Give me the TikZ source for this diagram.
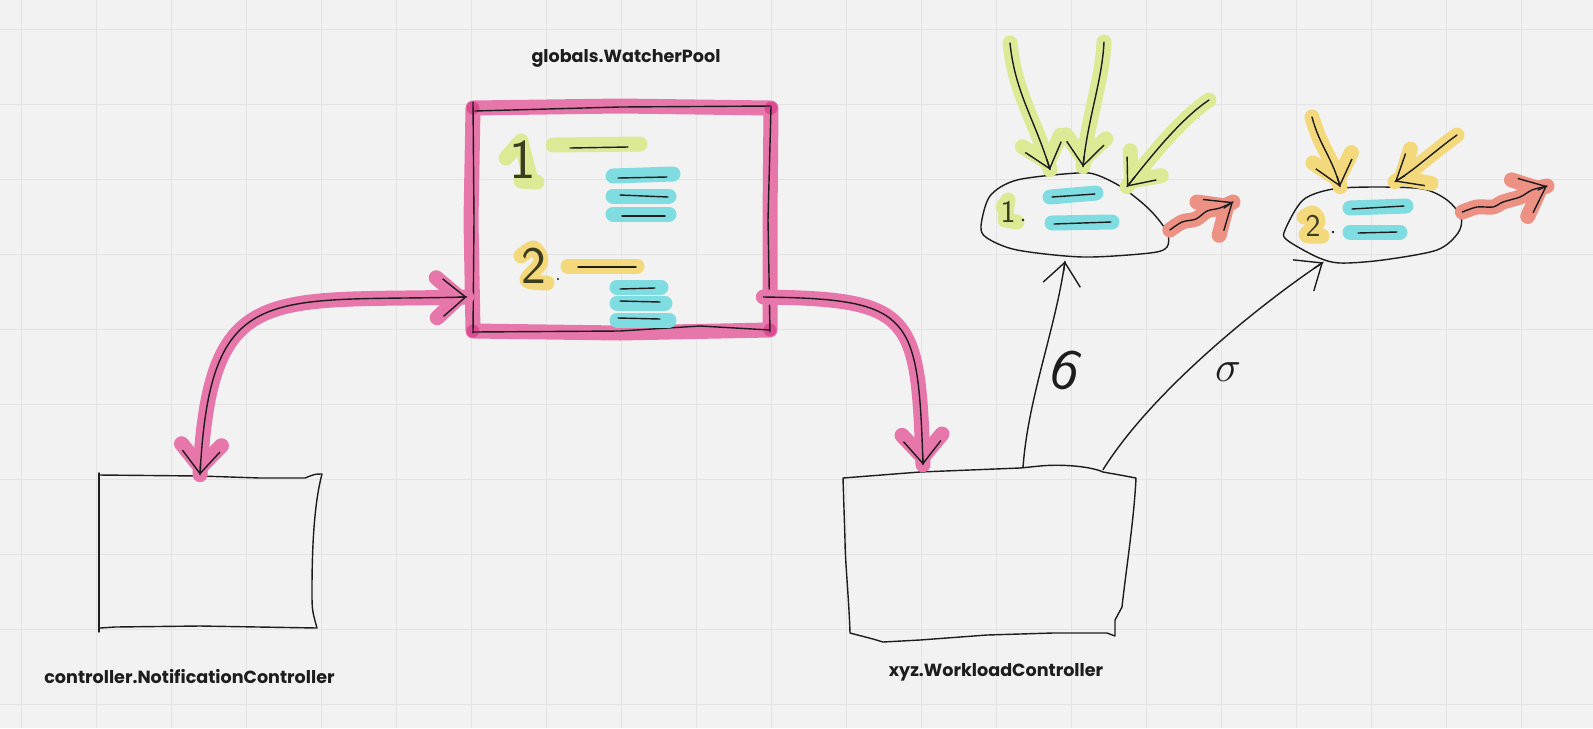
\documentclass[tikz,border=0pt]{standalone}
\usepackage{fontspec}
\setmainfont{Poppins}
\usetikzlibrary{arrows.meta,calc}
\definecolor{bgc}{HTML}{F2F2F2}
\definecolor{gridc}{HTML}{E3E3E3}
\definecolor{inkc}{HTML}{1D1D1D}
\definecolor{pinkc}{RGB}{231,118,170}
\definecolor{pinkdark}{RGB}{221,76,146}
\definecolor{greenc}{HTML}{DCEA96}
\definecolor{bluec}{HTML}{7FDDE2}
\definecolor{yellowc}{HTML}{F4D97C}
\definecolor{redc}{RGB}{238,145,133}
\definecolor{digitc}{HTML}{3C3C1E}
\tikzset{
  ink/.style={draw=inkc, line width=0.8pt, line cap=round, line join=round},
  hl/.style={line width=0.3cm, line cap=round, line join=round},
  pinkhl/.style={hl, draw=pinkc},
  greenhl/.style={hl, draw=greenc},
  bluehl/.style={hl, draw=bluec},
  yellowhl/.style={hl, draw=yellowc},
  redhl/.style={hl, draw=redc},
  hltip/.style={>={Straight Barb[length=0.45cm,width=0.8cm,round]}},
  inktip/.style={>={Straight Barb[length=0.45cm,width=0.75cm]}},
  box/.style={rectangle, draw=none, inner sep=0pt},
  lbl/.style={font=\bfseries\fontsize{10}{12}\selectfont, text=inkc, anchor=base},
  digit/.style={font=\sffamily\fontsize{#1}{#1}\selectfont, text=digitc, inner sep=0pt},
  digit/.default=28,
}
% highlight tip and ink tip at an end point, coming from direction #3
\newcommand\hltipat[3]{\draw[#1, hltip, ->] ($(#2)+#3$) -- (#2);}
\newcommand\inktipat[2]{\draw[ink, inktip, ->] ($(#1)+#2$) -- (#1);}
\begin{document}
\begin{tikzpicture}[x=0.02cm, y=-0.02cm]
\useasboundingbox (0,0) rectangle (1593,728);
\fill[bgc] (0,0) rectangle (1593,728);
\foreach \i in {0,...,21} \draw[gridc, line width=0.6pt] ({21.3+75*\i},0) -- ({21.3+75*\i},728);
\foreach \i in {0,...,9} \draw[gridc, line width=0.6pt] (0,{29.3+75*\i}) -- (1593,{29.3+75*\i});

% ---------- nodes (anchors) ----------
\node[box, minimum width=5.96cm, minimum height=4.46cm] (pool) at (622,219.5) {};
\node[box, minimum width=4.42cm, minimum height=3.12cm] (notif) at (209.5,552) {};
\node[box, minimum width=5.86cm, minimum height=3.36cm] (workload) at (989.5,554) {};
\node[box, minimum width=3.74cm, minimum height=1.68cm] (q1) at (1075,215) {};
\node[box, minimum width=3.52cm, minimum height=1.52cm] (q2) at (1373,225) {};

\node[lbl] (poollbl) at (626,62) {globals.WatcherPool};
\node[lbl] (notiflbl) at (189.5,683) {controller.NotificationController};
\node[lbl] (worklbl) at (996,676) {xyz.WorkloadController};

\coordinate (pl) at ($(pool.west)+(-6,77.5)$);
\coordinate (pr) at ($(pool.east)+(-8,77.5)$);
\coordinate (nt) at ($(notif.north)+(-9.5,1)$);
\coordinate (wk) at ($(workload.north)+(-66.5,-5)$);
\coordinate (wa) at ($(workload.north)+(33.5,-2)$);
\coordinate (wb) at ($(workload.north)+(113.5,0)$);
\coordinate (q1a) at ($(q1.south)+(-10,4)$);
\coordinate (q2b) at ($(q2.south)+(-50,-1)$);
\coordinate (g1e) at ($(q1.north)+(-25,-3)$);
\coordinate (g2e) at ($(q1.north)+(8,-6)$);
\coordinate (g3e) at ($(q1.north)+(52,14)$);
\coordinate (y1e) at ($(q2.north)+(-33,0)$);
\coordinate (y2e) at ($(q2.north)+(22,-5)$);
\coordinate (r1s) at ($(q1.east)+(1,15)$);
\coordinate (r2s) at ($(q2.east)+(1,-13)$);
\coordinate (g1s) at (1010,43);
\coordinate (g2s) at (1104,42);
\coordinate (g3s) at (1209,100);
\coordinate (y1s) at (1312,117);
\coordinate (y2s) at (1457,135);
\coordinate (r1e) at (1233,202);
\coordinate (r2e) at (1547,186);

% ---------- pool box ----------
\draw[pinkhl] (473,108) -- (620,106) -- (771,108) -- (770,220) -- (770,330) -- (620,333) -- (473,331) -- (471,220) -- cycle;
\foreach \p in {(473,108),(771,108),(770,330),(473,331)} \fill[pinkdark] \p circle (6.5);
\draw[ink] (473,102) -- (474,220) -- (473,333);
\draw[ink] (475,111) -- (620,107) -- (771,106);
\draw[ink] (771,107) -- (768,220) -- (770,332);
\draw[ink] (473,332) -- (620,331) -- (700,326) -- (770,330);

% pool contents
\draw[greenhl] (506,158) -- (521,141) -- (527,165) -- (531,180) (521,181) -- (537,182);
\node[digit=32] (d1) at (523,160) {1};
\draw[greenhl] (553,145) -- (640,144);
\draw[ink] (570,148) -- (628,147);
\draw[bluehl] (613,176) -- (673,174);
\draw[ink] (618,178) -- (667,177);
\draw[bluehl] (613,196) -- (669,196);
\draw[ink] (620,195) -- (668,197);
\draw[bluehl] (613,214) -- (669,214);
\draw[ink] (622,216) -- (665,216);
\draw[yellowhl] plot[smooth] coordinates {(521,256) (534,248) (541,262) (527,280) (547,283)};
\node[digit=30] (d2) at (534,266) {2};
\fill[inkc] (558,279) circle (0.6pt);
\draw[yellowhl] (568,266) -- (637,266);
\draw[ink] (578,267) -- (636,267);
\draw[bluehl] (617,287) -- (661,287);
\draw[ink] (620,289) -- (655,288);
\draw[bluehl] (617,303) -- (665,303);
\draw[ink] (620,301) -- (660,302);
\draw[bluehl] (617,320) -- (669,320);
\draw[ink] (618,318) -- (660,319);

% ---------- notification box ----------
\draw[ink] (99,632) -- (99,473);
\draw[ink] (99,475) -- (200,476) -- (260,478) -- (305,478) .. controls (315,474) .. (322,474) .. controls (315,500) and (312,540) .. (312,590) .. controls (312,610) .. (317,628) -- (200,626) -- (115,627) -- (100,628);

% ---------- workload box ----------
\draw[ink] (843,478) -- (920,472) -- (1020,468) -- (1040,466) .. controls (1060,464) and (1090,466) .. (1103,472) -- (1120,475) -- (1136,478)
  .. controls (1134,520) and (1126,570) .. (1122,607) -- (1115,620) -- (1115,636) -- (1107,633) -- (1053,633) -- (987,635) -- (920,640) -- (883,642) -- (873,639) -- (850,633)
  .. controls (849,600) and (845,560) .. (845,540) -- cycle;

% ---------- pink connectors ----------
\draw[pinkhl] (pl) .. controls ($(pl)+(-200,5)$) and ($(nt)+(10,-195)$) .. (nt);
\draw[pinkhl] (pr) .. controls ($(pr)+(150,2)$) and ($(wk)+(-5,-150)$) .. (wk);
\hltipat{pinkhl}{nt}{(0.5,-10)}
\hltipat{pinkhl}{pl}{(-10,0.25)}
\hltipat{pinkhl}{wk}{(-0.33,-10)}
\draw[ink] (pl) .. controls ($(pl)+(-200,5)$) and ($(nt)+(10,-195)$) .. (nt);
\draw[ink] (pr) .. controls ($(pr)+(150,2)$) and ($(wk)+(-5,-150)$) .. (wk);
\inktipat{nt}{(0.5,-10)}
\inktipat{pl}{(-10,0.25)}
\inktipat{wk}{(-0.33,-10)}

% ---------- queue 1 ----------
\draw[ink] plot[smooth cycle] coordinates {(981,226) (990,196) (1017,180) (1077,173) (1097,175) (1123,188) (1150,210) (1167,232) (1167,247) (1150,253) (1083,257) (1017,250) (987,238)};
\draw[greenhl] (1003,207) -- (1008,200) -- (1005,220) -- (1017,222);
\node[digit=18] (d3) at (1008,212) {1};
\fill[inkc] (1023,220) circle (0.8pt);
\draw[bluehl] (1050,197) -- (1096,193);
\draw[ink] (1052,197) -- (1095,194);
\draw[bluehl] (1052,223) -- (1112,222);
\draw[ink] (1054,224) -- (1111,222);

\draw[greenhl] (g1s) .. controls ($(g1s)+(5,50)$) and ($(g1e)+(-15,-50)$) .. (g1e);
\draw[greenhl] (g2s) .. controls ($(g2s)+(-2,40)$) and ($(g2e)+(5,-50)$) .. (g2e);
\draw[greenhl] (g3s) .. controls ($(g3s)+(-30,20)$) and ($(g3e)+(20,-25)$) .. (g3e);
\hltipat{greenhl}{g1e}{(-3,-10)}
\hltipat{greenhl}{g2e}{(1,-10)}
\hltipat{greenhl}{g3e}{(8,-10)}
\draw[ink] (g1s) .. controls ($(g1s)+(5,50)$) and ($(g1e)+(-15,-50)$) .. (g1e);
\draw[ink] (g2s) .. controls ($(g2s)+(-2,40)$) and ($(g2e)+(5,-50)$) .. (g2e);
\draw[ink] (g3s) .. controls ($(g3s)+(-30,20)$) and ($(g3e)+(20,-25)$) .. (g3e);
\inktipat{g1e}{(-3,-10)}
\inktipat{g2e}{(1,-10)}
\inktipat{g3e}{(8,-10)}

\draw[redhl] plot[smooth] coordinates {(r1s) (1182,222) (1196,219) (1207,211) (1220,208) (r1e)};
\hltipat{redhl}{r1e}{(-9,6)}
\draw[ink] plot[smooth] coordinates {(r1s) (1182,222) (1196,219) (1207,211) (1220,208) (r1e)};
\inktipat{r1e}{(-9,6)}

% ---------- queue 2 ----------
\draw[ink] plot[smooth cycle] coordinates {(1285,230) (1303,200) (1333,189) (1377,187) (1423,189) (1447,200) (1461,217) (1458,233) (1437,250) (1383,260) (1340,263) (1317,257) (1287,240)};
\draw[yellowhl] plot[smooth] coordinates {(1304,217) (1313,213) (1318,222) (1306,235) (1322,236)};
\node[digit=18] (d4) at (1313,226) {2};
\fill[inkc] (1333,232) circle (0.8pt);
\draw[bluehl] (1350,208) -- (1406,206);
\draw[ink] (1352,209) -- (1404,206);
\draw[bluehl] (1350,232) -- (1400,232);
\draw[ink] (1358,233) -- (1397,232);

\draw[yellowhl] (y1s) .. controls ($(y1s)+(8,30)$) and ($(y1e)+(-8,-30)$) .. (y1e);
\draw[yellowhl] (y2s) .. controls ($(y2s)+(-25,18)$) and ($(y2e)+(20,-12)$) .. (y2e);
\hltipat{yellowhl}{y1e}{(-2.7,-10)}
\hltipat{yellowhl}{y2e}{(10,-6)}
\draw[ink] (y1s) .. controls ($(y1s)+(8,30)$) and ($(y1e)+(-8,-30)$) .. (y1e);
\draw[ink] (y2s) .. controls ($(y2s)+(-25,18)$) and ($(y2e)+(20,-12)$) .. (y2e);
\inktipat{y1e}{(-2.7,-10)}
\inktipat{y2e}{(10,-6)}

\draw[redhl] plot[smooth] coordinates {(r2s) (1477,207) (1493,207) (1503,202) (1520,197) (1532,190) (r2e)};
\hltipat{redhl}{r2e}{(-9,4)}
\draw[ink] plot[smooth] coordinates {(r2s) (1477,207) (1493,207) (1503,202) (1520,197) (1532,190) (r2e)};
\inktipat{r2e}{(-9,4)}

% ---------- workload to queues ----------
\draw[ink] (wa) .. controls ($(wa)+(5,-70)$) and ($(q1a)+(-10,70)$) .. (q1a);
\draw[ink] (wb) .. controls ($(wb)+(50,-80)$) and ($(q2b)+(-60,40)$) .. (q2b);
\inktipat{q1a}{(-1.4,10)}
\inktipat{q2b}{(-9,6)}
\node[font=\sffamily\fontsize{34}{34}\selectfont, text=inkc, rotate=-20] (l6) at (1066,370) {6};
\node[font=\fontsize{28}{28}\selectfont, text=inkc] (lsig) at (1228,372) {$\sigma$};
\end{tikzpicture}
\end{document}
